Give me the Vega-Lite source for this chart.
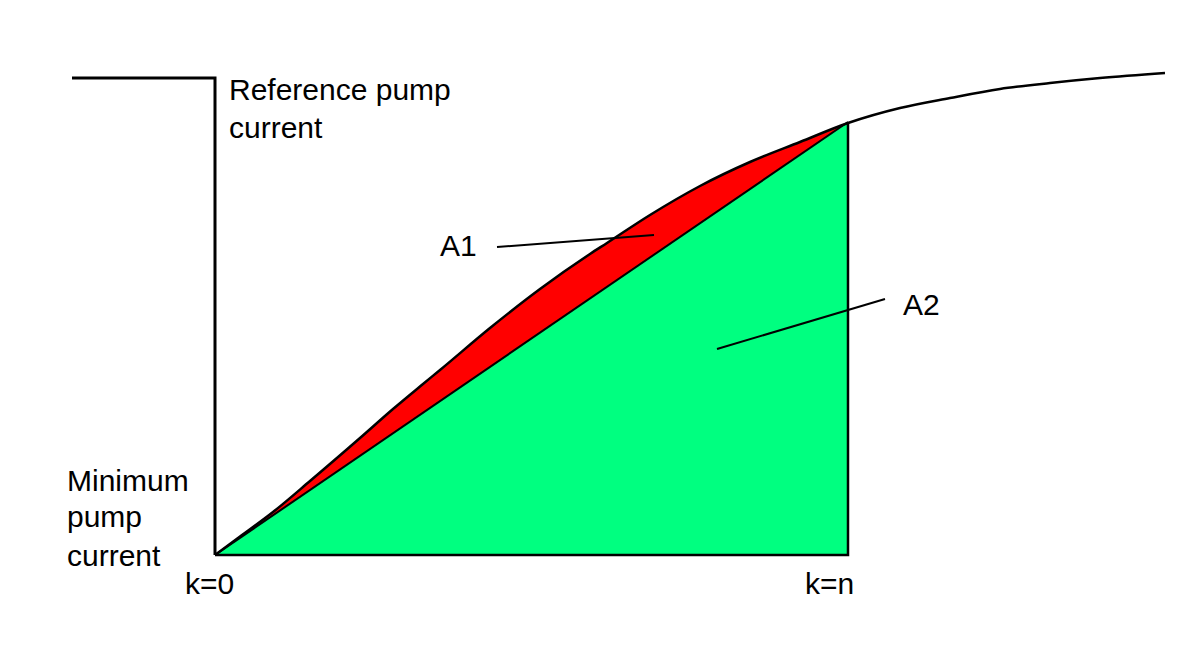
{
  "$schema": "https://vega.github.io/schema/vega-lite/v6.json",
  "width": 1200,
  "height": 663,
  "autosize": {"type": "fit", "contains": "padding"},
  "padding": 0,
  "background": "white",
  "config": {"view": {"stroke": null}},
  "datasets": {
    "band": [
      {"x": 215, "curve": 555, "chord": 555, "base": 555},
      {"x": 240, "curve": 536.5, "chord": 537.9, "base": 555},
      {"x": 273, "curve": 512, "chord": 515.3, "base": 555},
      {"x": 310, "curve": 481, "chord": 490.0, "base": 555},
      {"x": 360, "curve": 438, "chord": 455.8, "base": 555},
      {"x": 393, "curve": 409, "chord": 433.2, "base": 555},
      {"x": 423, "curve": 384, "chord": 412.7, "base": 555},
      {"x": 440, "curve": 370, "chord": 401.1, "base": 555},
      {"x": 490, "curve": 328, "chord": 366.9, "base": 555},
      {"x": 540, "curve": 289, "chord": 332.7, "base": 555},
      {"x": 590, "curve": 254, "chord": 298.5, "base": 555},
      {"x": 607, "curve": 243, "chord": 286.9, "base": 555},
      {"x": 650, "curve": 215, "chord": 257.4, "base": 555},
      {"x": 700, "curve": 186, "chord": 223.2, "base": 555},
      {"x": 750, "curve": 162, "chord": 189.0, "base": 555},
      {"x": 800, "curve": 142, "chord": 154.8, "base": 555},
      {"x": 848, "curve": 123, "chord": 122, "base": 555}
    ],
    "lines": [
      {"seg": "step", "i": 0, "x": 72, "y": 78},
      {"seg": "step", "i": 1, "x": 215, "y": 78},
      {"seg": "step", "i": 2, "x": 215, "y": 555},
      {"seg": "curve", "i": 0, "x": 215, "y": 555},
      {"seg": "curve", "i": 1, "x": 240, "y": 536.5},
      {"seg": "curve", "i": 2, "x": 273, "y": 512},
      {"seg": "curve", "i": 3, "x": 310, "y": 481},
      {"seg": "curve", "i": 4, "x": 360, "y": 438},
      {"seg": "curve", "i": 5, "x": 393, "y": 409},
      {"seg": "curve", "i": 6, "x": 423, "y": 384},
      {"seg": "curve", "i": 7, "x": 440, "y": 370},
      {"seg": "curve", "i": 8, "x": 490, "y": 328},
      {"seg": "curve", "i": 9, "x": 540, "y": 289},
      {"seg": "curve", "i": 10, "x": 590, "y": 254},
      {"seg": "curve", "i": 11, "x": 607, "y": 243},
      {"seg": "curve", "i": 12, "x": 650, "y": 215},
      {"seg": "curve", "i": 13, "x": 700, "y": 186},
      {"seg": "curve", "i": 14, "x": 750, "y": 162},
      {"seg": "curve", "i": 15, "x": 800, "y": 142},
      {"seg": "curve", "i": 16, "x": 848, "y": 123},
      {"seg": "curve", "i": 17, "x": 900, "y": 108},
      {"seg": "curve", "i": 18, "x": 950, "y": 98},
      {"seg": "curve", "i": 19, "x": 1000, "y": 89},
      {"seg": "curve", "i": 20, "x": 1050, "y": 83},
      {"seg": "curve", "i": 21, "x": 1100, "y": 78},
      {"seg": "curve", "i": 22, "x": 1165, "y": 73},
      {"seg": "chord", "i": 0, "x": 215, "y": 555},
      {"seg": "chord", "i": 1, "x": 848, "y": 122},
      {"seg": "box", "i": 0, "x": 848, "y": 122},
      {"seg": "box", "i": 1, "x": 848, "y": 555},
      {"seg": "box", "i": 2, "x": 215, "y": 555},
      {"seg": "leadA1", "i": 0, "x": 497, "y": 247},
      {"seg": "leadA1", "i": 1, "x": 654, "y": 235},
      {"seg": "leadA2", "i": 0, "x": 717, "y": 349},
      {"seg": "leadA2", "i": 1, "x": 885, "y": 299}
    ],
    "labels": [
      {"text": "Reference pump", "x": 229, "y": 100},
      {"text": "current", "x": 229, "y": 138},
      {"text": "Minimum", "x": 67, "y": 491},
      {"text": "pump", "x": 67, "y": 527},
      {"text": "current", "x": 67, "y": 566},
      {"text": "k=0", "x": 185, "y": 594},
      {"text": "k=n", "x": 805, "y": 594},
      {"text": "A1", "x": 440, "y": 256},
      {"text": "A2", "x": 903, "y": 315}
    ]
  },
  "layer": [
    {
      "data": {"name": "band"},
      "mark": {"type": "area", "color": "#00ff80"},
      "encoding": {
        "x": {"field": "x", "type": "quantitative", "scale": {"domain": [0, 1200], "nice": false, "zero": false}, "axis": null},
        "y": {"field": "chord", "type": "quantitative", "scale": {"domain": [0, 663], "reverse": true, "nice": false, "zero": false}, "axis": null},
        "y2": {"field": "base"}
      }
    },
    {
      "data": {"name": "band"},
      "mark": {"type": "area", "color": "#ff0000", "interpolate": "monotone"},
      "encoding": {
        "x": {"field": "x", "type": "quantitative"},
        "y": {"field": "curve", "type": "quantitative"},
        "y2": {"field": "chord"}
      }
    },
    {
      "data": {"name": "lines"},
      "transform": [{"filter": "datum.seg === 'step'"}],
      "mark": {"type": "line", "color": "black", "strokeWidth": 3, "strokeJoin": "miter"},
      "encoding": {
        "x": {"field": "x", "type": "quantitative"},
        "y": {"field": "y", "type": "quantitative"},
        "order": {"field": "i"},
        "detail": {"field": "seg"}
      }
    },
    {
      "data": {"name": "lines"},
      "transform": [{"filter": "datum.seg === 'curve'"}],
      "mark": {"type": "line", "color": "black", "strokeWidth": 2.5, "interpolate": "monotone"},
      "encoding": {
        "x": {"field": "x", "type": "quantitative"},
        "y": {"field": "y", "type": "quantitative"},
        "order": {"field": "i"},
        "detail": {"field": "seg"}
      }
    },
    {
      "data": {"name": "lines"},
      "transform": [{"filter": "datum.seg === 'box'"}],
      "mark": {"type": "line", "color": "black", "strokeWidth": 2.5, "strokeJoin": "miter"},
      "encoding": {
        "x": {"field": "x", "type": "quantitative"},
        "y": {"field": "y", "type": "quantitative"},
        "order": {"field": "i"},
        "detail": {"field": "seg"}
      }
    },
    {
      "data": {"name": "lines"},
      "transform": [{"filter": "datum.seg === 'chord' || datum.seg === 'leadA1' || datum.seg === 'leadA2'"}],
      "mark": {"type": "line", "color": "black", "strokeWidth": 2},
      "encoding": {
        "x": {"field": "x", "type": "quantitative"},
        "y": {"field": "y", "type": "quantitative"},
        "order": {"field": "i"},
        "detail": {"field": "seg"}
      }
    },
    {
      "data": {"name": "labels"},
      "mark": {"type": "text", "align": "left", "baseline": "alphabetic", "font": "Liberation Sans", "fontSize": 30, "color": "black"},
      "encoding": {
        "x": {"field": "x", "type": "quantitative"},
        "y": {"field": "y", "type": "quantitative"},
        "text": {"field": "text"}
      }
    }
  ]
}
